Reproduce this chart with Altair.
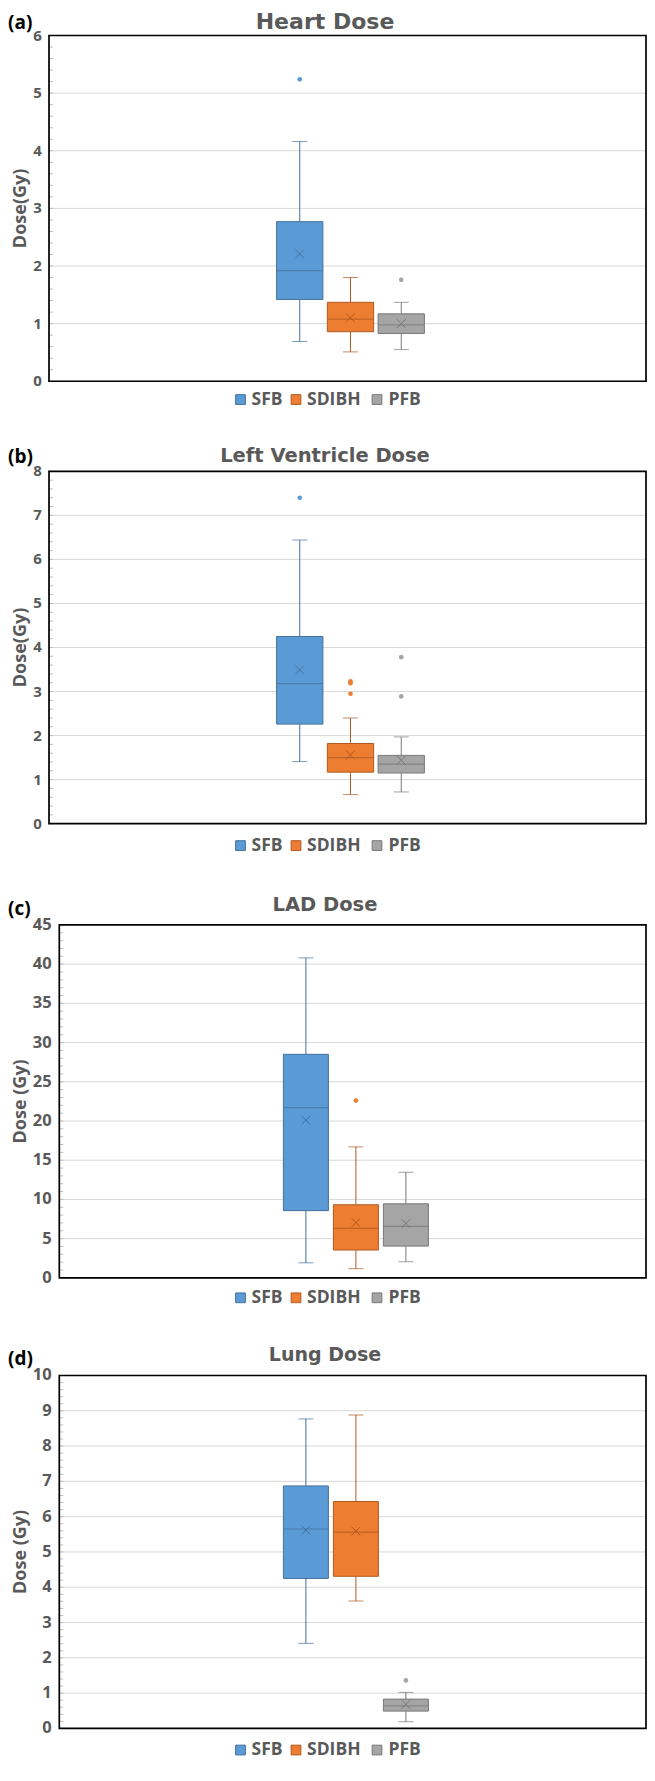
import altair as alt
import pandas as pd
import numpy as np

groups = ["SFB", "SDIBH", "PFB"]
fills = ["#5b9bd5", "#ed7d31", "#a5a5a5"]
edges = ["#41719c", "#ae5a21", "#787878"]

# (a) Heart dose
heart_low = [0.69, 0.51, 0.55]
heart_q1 = [1.42, 0.86, 0.83]
heart_med = [1.92, 1.08, 0.98]
heart_q3 = [2.77, 1.37, 1.17]
heart_high = [4.16, 1.80, 1.37]
heart_mean = [2.21, 1.10, 1.00]
heart_out_grp = ["SFB", "PFB"]
heart_out_val = [5.24, 1.76]
heart_ticks = [0, 1, 2, 3, 4, 5, 6]

# (b) Left ventricle dose
lv_low = [1.41, 0.66, 0.72]
lv_q1 = [2.26, 1.17, 1.15]
lv_med = [3.18, 1.50, 1.35]
lv_q3 = [4.25, 1.82, 1.55]
lv_high = [6.44, 2.40, 1.97]
lv_mean = [3.49, 1.56, 1.44]
lv_out_grp = ["SFB", "SDIBH", "SDIBH", "SDIBH", "PFB", "PFB"]
lv_out_val = [7.40, 3.23, 3.19, 2.95, 3.78, 2.89]
lv_ticks = [0, 1, 2, 3, 4, 5, 6, 7, 8]

# (c) LAD dose
lad_low = [1.92, 1.17, 2.05]
lad_q1 = [8.57, 3.55, 4.05]
lad_med = [21.7, 6.31, 6.56]
lad_q3 = [28.5, 9.32, 9.44]
lad_high = [40.8, 16.7, 13.46]
lad_mean = [20.1, 7.06, 6.94]
lad_out_grp = ["SDIBH"]
lad_out_val = [22.6]
lad_ticks = [0, 5, 10, 15, 20, 25, 30, 35, 40, 45]

# (d) Lung dose
lung_low = [2.41, 3.61, 0.19]
lung_q1 = [4.25, 4.31, 0.49]
lung_med = [5.65, 5.56, 0.64]
lung_q3 = [6.87, 6.43, 0.83]
lung_high = [8.77, 8.88, 1.02]
lung_mean = [5.62, 5.59, 0.68]
lung_out_grp = ["PFB"]
lung_out_val = [1.36]
lung_ticks = [0, 1, 2, 3, 4, 5, 6, 7, 8, 9, 10]

GRAY = "#595959"
LABEL_FONT = "Open Sans"
TITLE_FONT = "DejaVu Sans"

VIEW_W = 639
VIEW_H = 1755
PLOT_RIGHT = 646  # page x
LEG_SQ_X = [240.5, 296, 377]
LEG_TX_X = [251.5, 307, 388.5]


def VX(x):
    return x - 8


def VY(y):
    return -1 + 0.9831 * y


def txt(s, **kw):
    return alt.Chart(pd.DataFrame({"t": [s]})).mark_text(**kw).encode(text="t:N")


def panel(tag, title, title_size, ytitle, yticks, minor_step, lay, label_size,
          label_right, mid, step, pin, cap,
          low, q1, med, q3, high, mean, og, ov):
    top, bot, left, tbase, tagc, legc = lay
    ymax = yticks[-1]
    bw = step * (1 - pin)
    span = step * (3 - pin)
    x0 = VX(mid) - span / 2
    xscale = alt.Scale(domain=groups, range=[x0, x0 + span],
                       paddingInner=pin, paddingOuter=0)
    xenc = alt.X("g:N", sort=groups, scale=xscale, axis=None)
    yscale = alt.Scale(domain=[0, ymax], range=[VY(bot), VY(top)], nice=False,
                       zero=False)
    edge_c = alt.Color("g:N", scale=alt.Scale(domain=groups, range=edges), legend=None)
    edge_s = alt.Stroke("g:N", scale=alt.Scale(domain=groups, range=edges), legend=None)
    fill_f = alt.Fill("g:N", scale=alt.Scale(domain=groups, range=fills), legend=None)

    def Y(f):
        return alt.Y(f, scale=yscale, axis=None)

    df = pd.DataFrame({"g": groups, "low": low, "q1": q1, "med": med,
                       "q3": q3, "high": high, "mean": mean})
    base = alt.Chart(df)
    tdf = pd.DataFrame({"v": yticks})
    mdf = pd.DataFrame({"v": np.arange(0, ymax + 1e-9, minor_step)})
    fdf = pd.DataFrame({"lo": [0], "hi": [ymax]})
    odf = pd.DataFrame({"g": og, "v": ov})

    grid = alt.Chart(tdf).mark_rule(color="#d9d9d9", strokeWidth=1).encode(
        y=Y("v:Q"), x=alt.value(VX(left)), x2=alt.value(VX(PLOT_RIGHT)))
    minor = alt.Chart(mdf).mark_rule(color="#bfbfbf", strokeWidth=1).encode(
        y=Y("v:Q"), x=alt.value(VX(left)), x2=alt.value(VX(left) + 4))
    wl = base.mark_rule(strokeWidth=1).encode(x=xenc, y=Y("low:Q"), y2="q1:Q",
                                              color=edge_c)
    wh = base.mark_rule(strokeWidth=1).encode(x=xenc, y=Y("q3:Q"), y2="high:Q",
                                              color=edge_c)
    cap_lo = base.mark_tick(size=cap, thickness=1).encode(x=xenc, y=Y("low:Q"),
                                                          color=edge_c)
    cap_hi = base.mark_tick(size=cap, thickness=1).encode(x=xenc, y=Y("high:Q"),
                                                          color=edge_c)
    box = base.mark_bar(strokeWidth=1).encode(x=xenc, y=Y("q1:Q"), y2="q3:Q",
                                              fill=fill_f, stroke=edge_s)
    medl = base.mark_tick(size=bw, thickness=1.2).encode(x=xenc, y=Y("med:Q"),
                                                         color=edge_c)
    meanp = base.mark_point(shape="M-1,-1L1,1M-1,1L1,-1", filled=False, size=75,
                            strokeWidth=1, opacity=1).encode(
        x=xenc, y=Y("mean:Q"), color=edge_c)
    outl = alt.Chart(odf).mark_circle(size=22, opacity=1).encode(
        x=xenc, y=Y("v:Q"), fill=fill_f)
    frame = alt.Chart(fdf).mark_rect(fillOpacity=0, stroke="black",
                                     strokeWidth=1.7).encode(
        y=Y("lo:Q"), y2="hi:Q", x=alt.value(VX(left)), x2=alt.value(VX(PLOT_RIGHT)))
    labels = alt.Chart(tdf).mark_text(
        align="right", baseline="middle", font=LABEL_FONT, fontSize=label_size,
        fontWeight="bold", color=GRAY).encode(
        y=Y("v:Q"), text=alt.Text("v:Q", format="d"), x=alt.value(VX(label_right)))

    tag_l = txt(tag, font=LABEL_FONT, fontSize=19, fontWeight="bold", color="black",
                align="left", baseline="middle").encode(
        x=alt.value(0), y=alt.value(max(VY(tagc), 13)))
    title_l = txt(title, font=TITLE_FONT, fontSize=title_size, fontWeight="bold",
                  color=GRAY, align="center", baseline="alphabetic").encode(
        x=alt.value(VX(325)), y=alt.value(max(VY(tbase), 21)))
    ytitle_l = txt(ytitle, font=LABEL_FONT, fontSize=18, fontWeight="bold", color=GRAY,
                   align="center", baseline="middle", angle=270).encode(
        x=alt.value(12.5), y=alt.value(VY((top + bot) / 2)))

    legend_layers = []
    for i, g in enumerate(groups):
        legend_layers.append(
            alt.Chart(pd.DataFrame({"t": [g]})).mark_square(
                size=95, fill=fills[i], stroke=edges[i], strokeWidth=1, opacity=1
            ).encode(x=alt.value(VX(LEG_SQ_X[i])), y=alt.value(VY(legc))))
        legend_layers.append(
            txt(g, font=LABEL_FONT, fontSize=17.5, fontWeight="bold", color=GRAY,
                align="left", baseline="middle").encode(
                x=alt.value(VX(LEG_TX_X[i])), y=alt.value(VY(legc))))

    return alt.layer(grid, minor, wl, wh, cap_lo, cap_hi, box, medl, meanp, outl,
                     frame, labels, tag_l, title_l, ytitle_l, *legend_layers)


# layout rows: plot top, plot bottom, plot left, title baseline, tag centre, legend centre (page px)
LAY_A = (29, 380.7, 49, 19, 16, 399.3)
LAY_B = (472.3, 830.7, 49, 463.3, 458, 853)
LAY_C = (933.7, 1292.7, 59.3, 919.3, 917.5, 1313)
LAY_D = (1392, 1751, 59.3, 1377, 1375, 1773)

pa = panel("(a)", "Heart Dose", 22, "Dose(Gy)", heart_ticks, 0.2, LAY_A, 15, 41.8,
           350.5, 50.75, 0.088, 15,
           heart_low, heart_q1, heart_med, heart_q3, heart_high, heart_mean,
           heart_out_grp, heart_out_val)
pb = panel("(b)", "Left Ventricle Dose", 19.5, "Dose(Gy)", lv_ticks, 0.2, LAY_B, 15, 41.8,
           350.5, 50.75, 0.088, 15,
           lv_low, lv_q1, lv_med, lv_q3, lv_high, lv_mean, lv_out_grp, lv_out_val)
pc = panel("(c)", "LAD Dose", 19.5, "Dose (Gy)", lad_ticks, 1, LAY_C, 16.5, 51.7,
           355.9, 50, 0.1, 15,
           lad_low, lad_q1, lad_med, lad_q3, lad_high, lad_mean, lad_out_grp, lad_out_val)
pd_ = panel("(d)", "Lung Dose", 19, "Dose (Gy)", lung_ticks, 0.2, LAY_D, 16.5, 51.7,
            355.9, 50, 0.1, 15,
            lung_low, lung_q1, lung_med, lung_q3, lung_high, lung_mean,
            lung_out_grp, lung_out_val)

chart = alt.layer(pa, pb, pc, pd_).resolve_scale(
    x="independent", y="independent"
).properties(
    width=VIEW_W, height=VIEW_H, padding=0,
    autosize=alt.AutoSizeParams(type="none"), background="white"
).configure_view(stroke=None)

chart.save("out.html", embed_options={"renderer": "svg", "actions": False})
